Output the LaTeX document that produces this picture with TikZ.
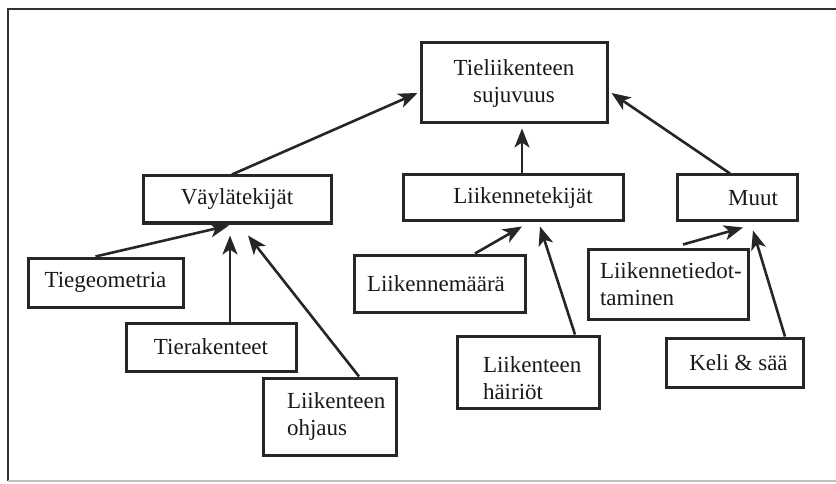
\documentclass[tikz,border=0pt]{standalone}
\usepackage{fontspec}
\setmainfont{Liberation Serif}
\usetikzlibrary{arrows.meta,calc}
\begin{document}
\begin{tikzpicture}[x=1pt,y=-1pt,
  box/.style={draw=black!85, line width=3pt, inner sep=0pt,
    font=\fontsize{23}{27}\selectfont, text=black!90, align=center},
  lbox/.style={box, align=left},
  arr/.style={draw=black!85, line width=2.6pt,
    -{Stealth[length=19pt,width=15pt,inset=5pt]}}]
\useasboundingbox (0,0) rectangle (836,484);
\fill[white] (0,0) rectangle (836,484);
\draw[black!80,line width=2.6pt] (8,481) -- (8,9) -- (836,9);
\draw[black!25,line width=1.8pt] (8,481) -- (836,481);

\node[box, minimum width=186pt, minimum height=80pt] (top) at (514,83) {Tieliikenteen\\sujuvuus};

\node[box, minimum width=188pt, minimum height=47pt] (vay) at (237,199.5) {V\"ayl\"atekij\"at};
\node[box, minimum width=220pt, minimum height=46pt] (lii) at (513,198) {\hspace*{20pt}Liikennetekij\"at};
\node[box, minimum width=120pt, minimum height=46pt] (muut) at (737,198) {\hspace*{32pt}Muut};

\node[box, minimum width=155pt, minimum height=49pt] (tieg) at (105.5,282.5) {Tiegeometria};
\node[box, minimum width=170pt, minimum height=48pt] (tier) at (211,347) {Tierakenteet};
\node[lbox, text width=133pt, minimum height=77pt] (ohj) at (329.5,416.5) {\hspace*{24pt}Liikenteen\\\hspace*{24pt}ohjaus};

\node[lbox, text width=171pt, minimum height=57pt] (maara) at (439.5,283.5) {\hspace*{13pt}Liikennem\"a\"ar\"a};
\node[lbox, text width=142pt, minimum height=72pt] (hair) at (528,372) {\hspace*{26pt}\rule{0pt}{29pt}Liikenteen\\\hspace*{26pt}h\"airi\"ot};

\node[lbox, text width=160pt, minimum height=70pt] (tied) at (668,284) {\hspace*{12pt}Liikennetiedot-\\\hspace*{12pt}taminen};
\node[box, minimum width=137pt, minimum height=49pt] (keli) at (734.5,362.5) {\hspace*{8pt}Keli \& s\"a\"a};

% connectors to top
\draw[arr] ($(vay.north)+(-5,0)$) -- ($(top.west)+(-2,10)$);
\draw[arr] ($(lii.north)+(9,0)$) -- ($(top.south)+(8,4)$);
\draw[arr] ($(muut.north)+(-7,0)$) -- ($(top.east)+(3,10)$);

% connectors to Vaylatekijat
\draw[arr] ($(tieg.north)+(-10,0)$) -- ($(vay.south)+(-8,1)$);
\draw[arr] ($(tier.north)+(19,0)$) -- ($(vay.south)+(-7,11)$);
\draw[arr] ($(ohj.north)+(29.5,0)$) -- ($(vay.south)+(11,11)$);

% connectors to Liikennetekijat
\draw[arr] ($(maara.north)+(35.5,0)$) -- ($(lii.south)+(9,4)$);
\draw[arr] ($(hair.north)+(47,0)$) -- ($(lii.south)+(27,4)$);

% connectors to Muut
\draw[arr] ($(tied.north)+(15,-3)$) -- ($(muut.south)+(6,5)$);
\draw[arr] ($(keli.north)+(50.5,0)$) -- ($(muut.south)+(16,8)$);
\end{tikzpicture}
\end{document}
